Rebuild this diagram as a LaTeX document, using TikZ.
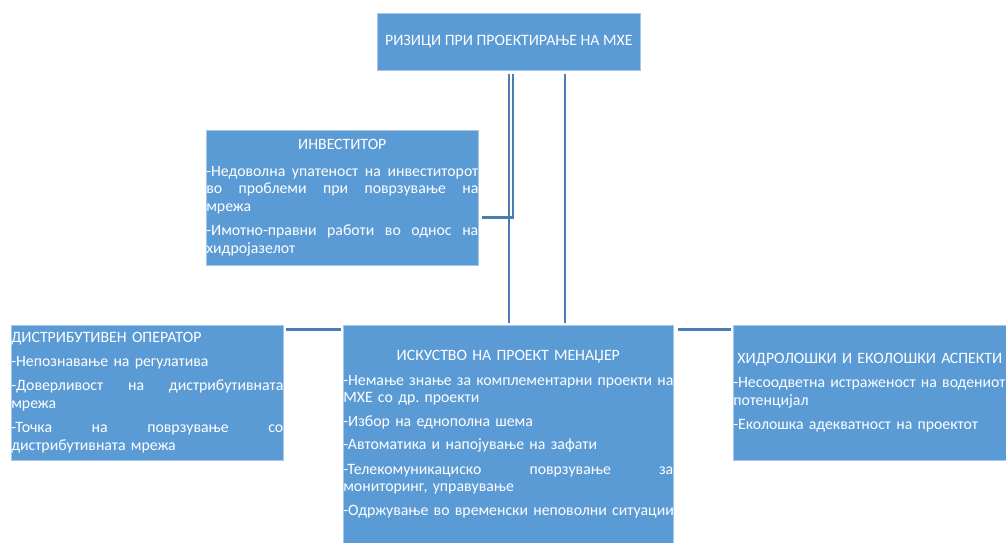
\documentclass[tikz,border=0pt]{standalone}
\usepackage{fontspec}
\setmainfont{Carlito}
\usetikzlibrary{positioning}
\definecolor{boxblue}{HTML}{5B9BD5}
\definecolor{lineblue}{HTML}{4A7DB5}
% one justified line, stretched to the box width
\newcommand{\jline}[1]{\makebox[\linewidth][s]{\spaceskip=\fontdimen2\font plus 20em\relax #1}}
\newcommand{\ctitle}[1]{\makebox[\linewidth]{#1}}
\frenchspacing

\begin{document}
\begin{tikzpicture}[x=1pt,y=-1pt,
    riskbox/.style={fill=boxblue, draw=boxblue!55!white, line width=0.6pt,
      text=white, inner xsep=0pt, inner ysep=0pt, anchor=north west,
      align=left, font=\fontsize{15.8}{17.5}\selectfont},
    link/.style={draw=lineblue, line width=2.6pt}]
    \useasboundingbox (0,0) rectangle (1006,543);

    % Main risk (top)
    \node[riskbox, minimum width=263pt, minimum height=57pt, align=center] (risk) at (377,13)
        {РИЗИЦИ ПРИ ПРОЕКТИРАЊЕ НА МХЕ};

    % Investor
    \node[riskbox, text width=272pt, minimum height=135pt] (inv) at (206,130)
        {\ctitle{ИНВЕСТИТОР}\\[9pt]
         \jline{-Недоволна упатеност на инвеститорот}\\
         \jline{во проблеми при поврзување на}\\
         мрежа\\[7pt]
         \jline{-Имотно-правни работи во однос на}\\
         хидројазелот};

    % Distribution operator
    \node[riskbox, text width=272pt, minimum height=135pt] (dist) at (11,325)
        {ДИСТРИБУТИВЕН ОПЕРАТОР\\[6pt]
         -Непознавање на регулатива\\[7pt]
         \jline{-Доверливост на дистрибутивната}\\
         мрежа\\[7pt]
         \jline{-Точка на поврзување со}\\
         дистрибутивната мрежа};

    % Project manager
    \node[riskbox, text width=330pt, minimum height=218pt] (mgr) at (343,325)
        {\ctitle{ИСКУСТВО НА ПРОЕКТ МЕНАЏЕР}\\[7pt]
         \jline{-Немање знање за комплементарни проекти на}\\
         МХЕ со др. проекти\\[6pt]
         -Избор на еднополна шема\\[6pt]
         -Автоматика и напојување на зафати\\[7pt]
         \jline{-Телекомуникациско поврзување за}\\
         мониторинг, управување\\[6pt]
         \mbox{-Одржување во временски неповолни ситуации}};

    % Hydrological and ecological aspects
    \node[riskbox, text width=273pt, minimum height=135pt] (hydro) at (733,325)
        {\ctitle{ХИДРОЛОШКИ И ЕКОЛОШКИ АСПЕКТИ}\\[7pt]
         \mbox{-Несоодветна истраженост на водениот}\\
         потенцијал\\[7pt]
         -Еколошка адекватност на проектот};

    % Connectors
    \draw[link, shorten <=3pt, shorten >=2pt] (risk.south) -- (risk.south |- mgr.north);
    \draw[link, shorten <=3pt, shorten >=2pt] ([xshift=56pt]risk.south) -- ([xshift=56pt]risk.south |- mgr.north);
    \draw[link, shorten <=3pt, shorten >=3pt] ([xshift=4pt]risk.south) |- ([yshift=-19.5pt]inv.east);
    \draw[link, shorten <=2pt, shorten >=2pt] ([yshift=-4.5pt]dist.north east) -- ([yshift=-4.5pt]mgr.north west);
    \draw[link, shorten <=4pt, shorten >=2pt] ([yshift=-4.5pt]mgr.north east) -- ([yshift=-4.5pt]hydro.north west);
\end{tikzpicture}
\end{document}
